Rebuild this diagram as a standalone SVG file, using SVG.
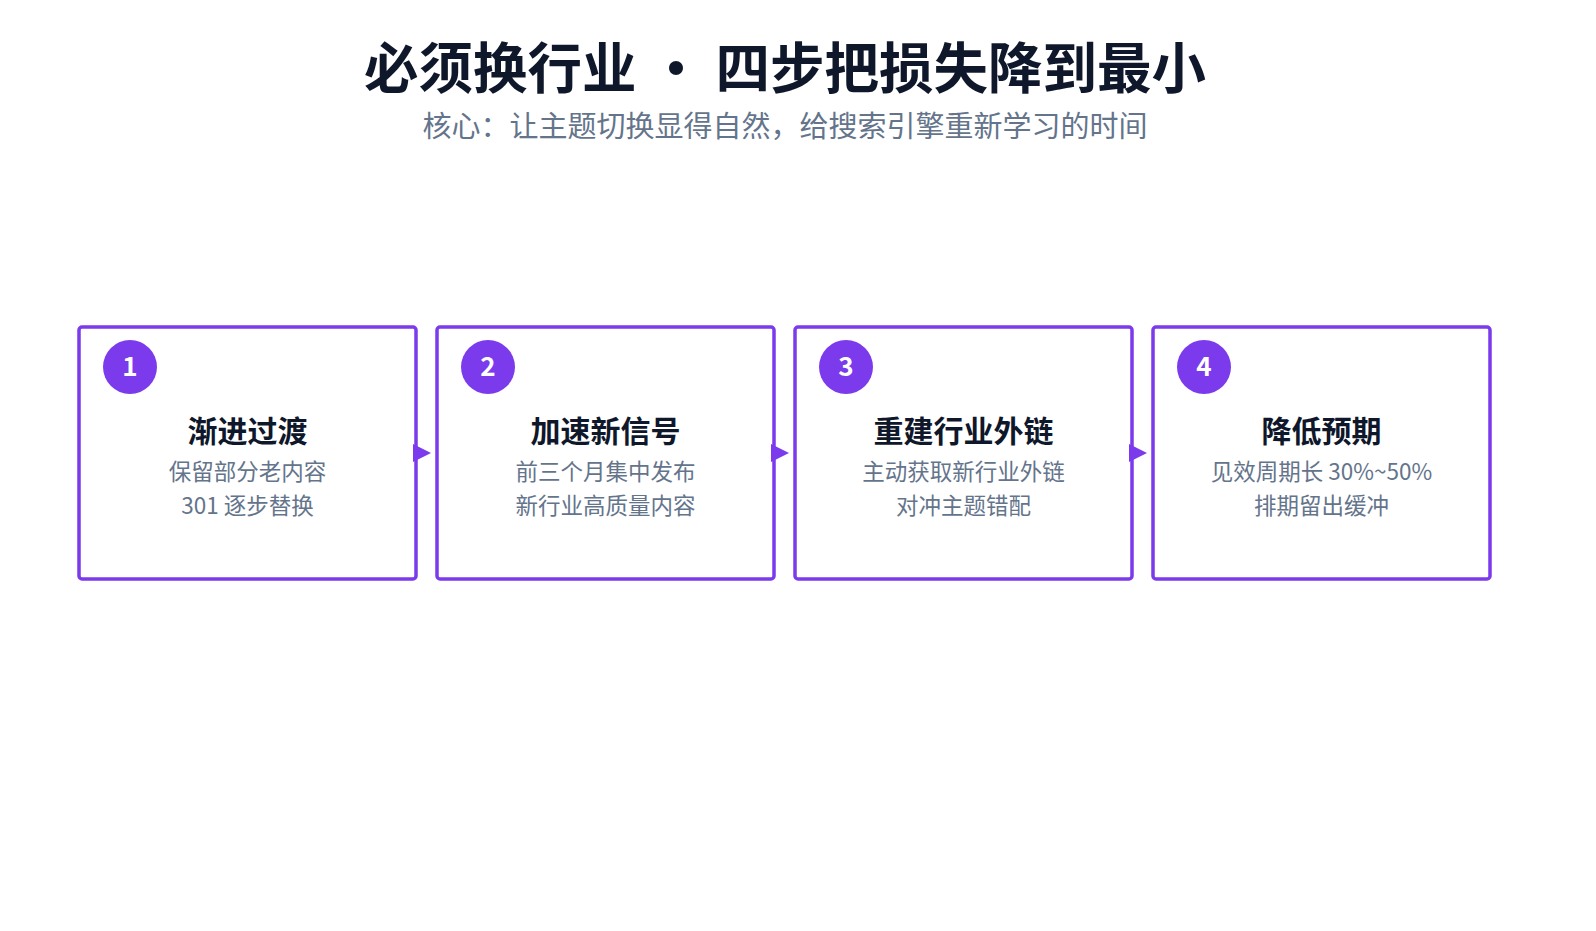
<svg xmlns="http://www.w3.org/2000/svg" width="1596" height="931" viewBox="0 0 1596 931">
<style>
text{font-family:"Noto Sans CJK SC","Noto Sans",sans-serif;text-anchor:middle}
.title{font-size:54.5px;font-weight:700;fill:#0f172a}
.sub{font-size:29px;fill:#64748b}
.box{fill:#fff;stroke:#7c3aed;stroke-width:3.5}
.badge{fill:#7c3aed}
.num{font-size:26px;font-weight:700;fill:#fff}
.h{font-size:30px;font-weight:700;fill:#0f172a}
.d{font-size:22.5px;fill:#64748b}
</style>
<rect width="1596" height="931" fill="#fff"/>
<text class="title" x="785" y="88">必须换行业 · 四步把损失降到最小</text>
<text class="sub" x="785" y="137">核心：让主题切换显得自然，给搜索引擎重新学习的时间</text>
<g id="node1">
<rect class="box" x="79" y="327" width="337" height="252" rx="3"/>
<circle class="badge" cx="130" cy="367" r="27"/>
<text class="num" x="130" y="376">1</text>
<text class="h" x="247.5" y="442">渐进过渡</text>
<text class="d" x="247.5" y="480">保留部分老内容</text>
<text class="d" x="247.5" y="514">301 逐步替换</text>
</g>
<g id="node2">
<rect class="box" x="437" y="327" width="337" height="252" rx="3"/>
<circle class="badge" cx="488" cy="367" r="27"/>
<text class="num" x="488" y="376">2</text>
<text class="h" x="605.5" y="442">加速新信号</text>
<text class="d" x="605.5" y="480">前三个月集中发布</text>
<text class="d" x="605.5" y="514">新行业高质量内容</text>
</g>
<g id="node3">
<rect class="box" x="795" y="327" width="337" height="252" rx="3"/>
<circle class="badge" cx="846" cy="367" r="27"/>
<text class="num" x="846" y="376">3</text>
<text class="h" x="963.5" y="442">重建行业外链</text>
<text class="d" x="963.5" y="480">主动获取新行业外链</text>
<text class="d" x="963.5" y="514">对冲主题错配</text>
</g>
<g id="node4">
<rect class="box" x="1153" y="327" width="337" height="252" rx="3"/>
<circle class="badge" cx="1204" cy="367" r="27"/>
<text class="num" x="1204" y="376">4</text>
<text class="h" x="1321.5" y="442">降低预期</text>
<text class="d" x="1321.5" y="480">见效周期长 30%~50%</text>
<text class="d" x="1321.5" y="514">排期留出缓冲</text>
</g>
<g id="connectors" fill="#7c3aed">
<path d="M413,444 L431,453 L413,462 Z"/>
<path d="M771,444 L789,453 L771,462 Z"/>
<path d="M1129,444 L1147,453 L1129,462 Z"/>
</g>
</svg>
